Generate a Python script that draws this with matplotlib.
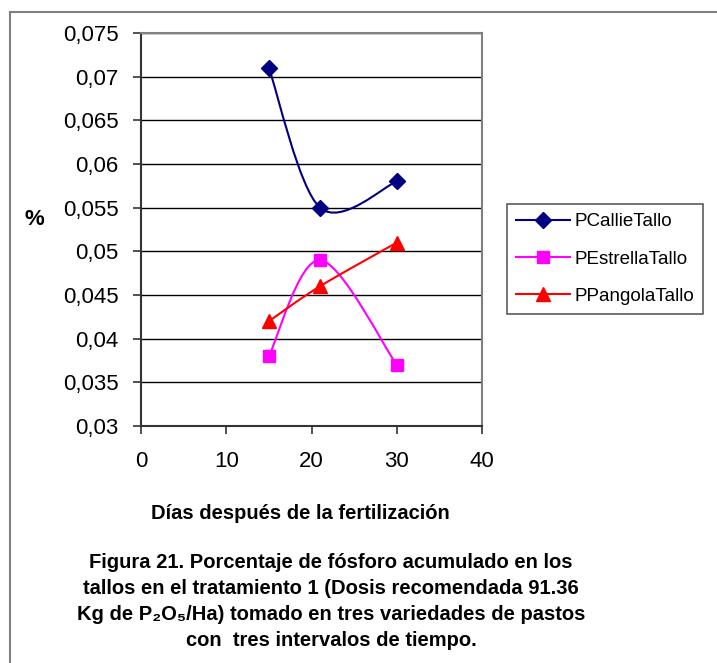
import matplotlib
matplotlib.use("Agg")
import matplotlib.pyplot as plt
from matplotlib.path import Path
from matplotlib.patches import PathPatch
from matplotlib.lines import Line2D
from matplotlib.ticker import FuncFormatter, MultipleLocator

plt.rcParams["font.family"] = ["Liberation Sans", "DejaVu Sans"]

# data
dias = [15, 21, 30]
callie = [0.071, 0.055, 0.058]
estrella = [0.038, 0.049, 0.037]
pangola = [0.042, 0.046, 0.051]

series_names = ["PCallieTallo", "PEstrellaTallo", "PPangolaTallo"]
series_colors = ["#000080", "#FF00FF", "#FF0000"]
series_markers = ["D", "s", "^"]
marker_sizes = [8, 8.5, 9.5]

caption = [
    "Figura 21. Porcentaje de fósforo acumulado en los",
    "tallos en el tratamiento 1 (Dosis recomendada 91.36",
    "Kg de P\u2082O\u2085/Ha) tomado en tres variedades de pastos",
    "con  tres intervalos de tiempo.",
]


def smooth_path(xs, ys):
    # Excel-style smoothed line: cubic Bezier with Catmull-Rom control points
    pts = list(zip(xs, ys))
    verts = [pts[0]]
    codes = [Path.MOVETO]
    n = len(pts)
    for i in range(n - 1):
        p0 = pts[max(i - 1, 0)]
        p1 = pts[i]
        p2 = pts[i + 1]
        p3 = pts[min(i + 2, n - 1)]
        c1 = (p1[0] + (p2[0] - p0[0]) / 6, p1[1] + (p2[1] - p0[1]) / 6)
        c2 = (p2[0] - (p3[0] - p1[0]) / 6, p2[1] - (p3[1] - p1[1]) / 6)
        verts += [c1, c2, p2]
        codes += [Path.CURVE4] * 3
    return Path(verts, codes)


W, H = 717, 663
fig = plt.figure(figsize=(W / 100, H / 100), dpi=100)
ax = fig.add_axes([141 / W, 1 - 426 / H, (482 - 141) / W, (426 - 33) / H])

handles = []
for ys, name, col, mk, ms in zip([callie, estrella, pangola], series_names,
                                 series_colors, series_markers, marker_sizes):
    ax.add_patch(PathPatch(smooth_path(dias, ys), facecolor="none",
                           edgecolor=col, lw=1.5, zorder=3))
    ax.plot(dias, ys, linestyle="none", marker=mk, ms=ms, color=col,
            markeredgecolor=col, zorder=4)
    handles.append(Line2D([], [], color=col, lw=1.5, marker=mk, ms=ms,
                          markeredgecolor=col, label=name))

ax.set_xlim(0, 40)
ax.set_ylim(0.03, 0.075)
ax.xaxis.set_major_locator(MultipleLocator(10))
ax.yaxis.set_major_locator(MultipleLocator(0.005))
ax.yaxis.set_major_formatter(FuncFormatter(lambda v, p: f"{v:.3f}".rstrip("0").replace(".", ",")))
ax.grid(axis="y", color="black", lw=1)
ax.set_axisbelow(True)
for side in ["top", "right"]:
    ax.spines[side].set_color("#808080")
    ax.spines[side].set_linewidth(1.5)
for side in ["left", "bottom"]:
    ax.spines[side].set_color("#333333")
    ax.spines[side].set_linewidth(1.5)
ax.tick_params(axis="both", direction="out", length=6, width=1.2, color="#333333",
               labelsize=16)
ax.tick_params(axis="y", pad=10)
ax.tick_params(axis="x", pad=12)

leg = fig.legend(handles=handles, loc="upper left", bbox_to_anchor=(507 / W, 1 - 204 / H),
                 bbox_transform=fig.transFigure, frameon=True, fancybox=False,
                 edgecolor="#333333", fontsize=13.5, handlelength=2.88, handletextpad=0.2,
                 borderpad=0.5, labelspacing=1.07, borderaxespad=0)
leg.get_frame().set_linewidth(1.2)

fig.text(34 / W, 1 - 220 / H, "%", fontsize=16, fontweight="bold",
         ha="center", va="center")
fig.text(300 / W, 1 - 519 / H, "Días después de la fertilización",
         fontsize=14.5, fontweight="bold", ha="center", va="baseline")
for i, line in enumerate(caption):
    fig.text(331 / W, 1 - (568 + 26 * i) / H, line, fontsize=14.5,
             fontweight="bold", ha="center", va="baseline")

# outer frame (top and left edges only, as in the reference)
fig.add_artist(Line2D([10 / W, 1], [1 - 12 / H, 1 - 12 / H], color="#808080",
                      lw=1.5, transform=fig.transFigure))
fig.add_artist(Line2D([10 / W, 10 / W], [0, 1 - 12 / H], color="#808080",
                      lw=1.5, transform=fig.transFigure))

fig.savefig("out.png", dpi=100)
